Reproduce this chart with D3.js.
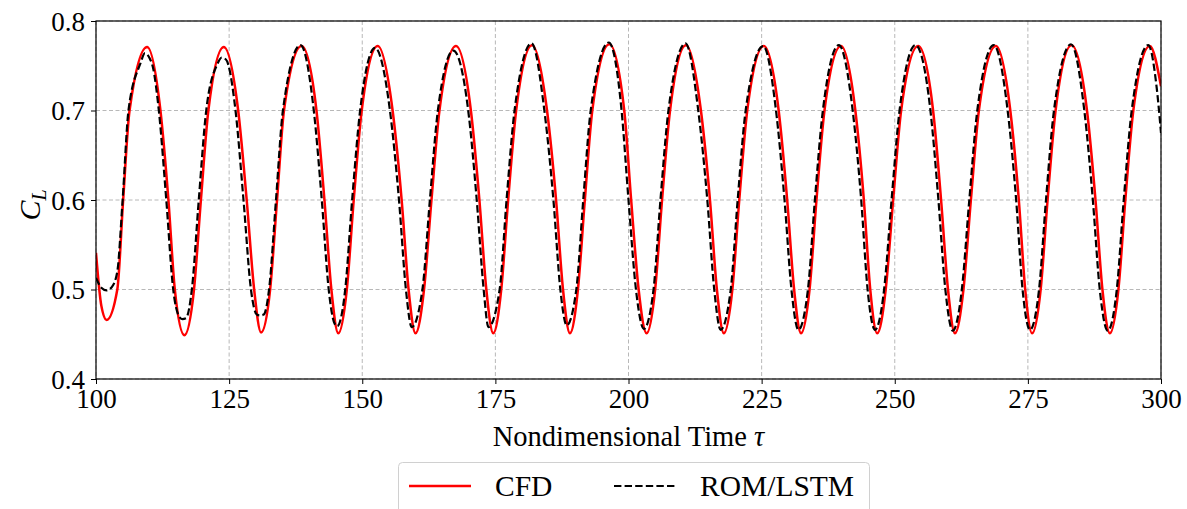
<!DOCTYPE html>
<html><head><meta charset="utf-8">
<script src="https://cdn.jsdelivr.net/npm/d3@7"></script>
<style>body{margin:0;background:#fff}svg{display:block}</style>
</head><body>
<svg id="c" width="1187" height="509"></svg>
<script>
const xTicks = [100,125,150,175,200,225,250,275,300];
const yTicks = [0.4,0.5,0.6,0.7,0.8];
const seriesNames = ["CFD","ROM/LSTM"];
// CFD lift coefficient (tau, C_L)
const cfdTau = [100,101.0,102.0,104.0,105.1,106.3,109.6,
 112.1,113.6,114.8,116.6,118.4,119.7,121.1,124.0,
 126.7,128.3,129.7,131.0,132.7,134.0,135.3,138.6,
 141.4,142.9,144.2,145.5,147.1,148.4,149.9,152.9,
 155.7,157.4,158.7,160.0,161.6,163.0,164.5,167.6,
 170.4,172.0,173.3,174.6,176.1,177.4,178.9,181.9,
 184.7,186.4,187.7,189.0,190.5,191.8,193.2,196.4,
 199.2,200.5,201.9,203.4,205.0,206.3,207.8,210.8,
 213.6,215.3,216.6,217.9,219.5,220.8,222.3,225.4,
 228.2,229.8,231.1,232.4,234.0,235.3,236.8,239.9,
 242.6,244.2,245.4,246.7,248.3,249.7,251.2,254.4,
 257.2,258.7,260.0,261.3,262.9,264.3,265.8,269.0,
 271.7,273.3,274.5,275.8,277.4,278.7,280.2,283.2,
 286.1,287.7,289.0,290.4,292.0,293.3,294.8,297.9,300];
const cfdCL = [0.541,0.482,0.466,0.5,0.6,0.7,0.771,
 0.7,0.6,0.5,0.449,0.5,0.6,0.7,0.771,
 0.7,0.6,0.5,0.452,0.5,0.6,0.7,0.772,
 0.7,0.6,0.5,0.451,0.5,0.6,0.7,0.772,
 0.7,0.6,0.5,0.451,0.5,0.6,0.7,0.772,
 0.7,0.6,0.5,0.451,0.5,0.6,0.7,0.773,
 0.7,0.6,0.5,0.451,0.5,0.6,0.7,0.774,
 0.7,0.6,0.5,0.451,0.5,0.6,0.7,0.773,
 0.7,0.6,0.5,0.451,0.5,0.6,0.7,0.772,
 0.7,0.6,0.5,0.451,0.5,0.6,0.7,0.772,
 0.7,0.6,0.5,0.451,0.5,0.6,0.7,0.772,
 0.7,0.6,0.5,0.451,0.5,0.6,0.7,0.772,
 0.7,0.6,0.5,0.451,0.5,0.6,0.7,0.773,
 0.7,0.6,0.5,0.451,0.5,0.6,0.7,0.772,0.727];
// ROM/LSTM prediction (tau, C_L)
const romTau = [100,101.0,102.0,103.0,104.0,105.0,106.1,108.3,109.2,110.1,110.7,
 111.8,113.2,114.5,115.6,116.2,116.9,118.0,119.3,120.7,122.8,123.6,124.4,
 126.2,127.7,129.1,130.2,130.8,131.5,132.5,133.8,135.1,138.4,
 140.9,142.4,143.7,144.8,145.3,146.8,148.1,149.6,152.4,
 155.2,156.9,158.2,159.3,161.3,162.7,164.2,167.1,
 169.9,171.5,172.8,173.7,175.8,177.1,178.6,181.8,
 184.2,185.9,187.2,188.4,190.2,191.5,192.9,196.3,
 198.7,200.0,201.4,202.9,204.7,206.0,207.5,210.7,
 213.1,214.8,216.1,217.3,219.2,220.5,222.0,225.3,
 227.7,229.3,230.6,231.9,233.7,235.0,236.5,239.5,
 242.1,243.7,244.9,246.3,248.0,249.4,250.9,253.9,
 256.7,258.2,259.5,260.9,262.6,264.0,265.5,268.6,
 271.2,272.8,274.0,275.4,277.1,278.4,279.9,283.1,
 285.6,287.2,288.5,290.0,291.7,293.0,294.5,297.6,299.2,300];
const romCL = [0.513,0.502,0.499,0.503,0.52,0.6,0.7,0.752,0.764,0.758,0.748,
 0.7,0.6,0.5,0.470,0.467,0.468,0.5,0.6,0.7,0.752,0.759,0.757,
 0.7,0.6,0.5,0.472,0.471,0.472,0.5,0.6,0.7,0.773,
 0.7,0.6,0.5,0.462,0.459,0.5,0.6,0.7,0.770,
 0.7,0.6,0.5,0.458,0.5,0.6,0.7,0.767,
 0.7,0.6,0.5,0.458,0.5,0.6,0.7,0.775,
 0.7,0.6,0.5,0.460,0.5,0.6,0.7,0.776,
 0.7,0.6,0.5,0.456,0.5,0.6,0.7,0.775,
 0.7,0.6,0.5,0.455,0.5,0.6,0.7,0.772,
 0.7,0.6,0.5,0.455,0.5,0.6,0.7,0.773,
 0.7,0.6,0.5,0.455,0.5,0.6,0.7,0.773,
 0.7,0.6,0.5,0.454,0.5,0.6,0.7,0.773,
 0.7,0.6,0.5,0.455,0.5,0.6,0.7,0.774,
 0.7,0.6,0.5,0.454,0.5,0.6,0.7,0.773,0.725,0.675];

const svg = d3.select("#c");
const font = "'Liberation Serif', 'DejaVu Serif', serif";
const L = 96, R = 1161, T = 21, B = 379;
const x = d3.scaleLinear().domain([100,300]).range([L,R]);
const y = d3.scaleLinear().domain([0.4,0.8]).range([B,T]);

// grid
const g = svg.append("g");
g.selectAll(".gx").data(xTicks).join("line")
  .attr("x1",d=>x(d)).attr("x2",d=>x(d)).attr("y1",T).attr("y2",B)
  .attr("stroke","#b0b0b0").attr("stroke-width",0.9).attr("stroke-dasharray","4,2.5");
g.selectAll(".gy").data(yTicks).join("line")
  .attr("y1",d=>y(d)).attr("y2",d=>y(d)).attr("x1",L).attr("x2",R)
  .attr("stroke","#b0b0b0").attr("stroke-width",0.9).attr("stroke-dasharray","4,2.5");

svg.append("clipPath").attr("id","pc").append("rect")
  .attr("x",L).attr("y",T).attr("width",R-L).attr("height",B-T);

const line = d3.line().x(d=>x(d[0])).y(d=>y(d[1])).curve(d3.curveMonotoneX);
const cfd = cfdTau.map((t,i)=>[t,cfdCL[i]]);
const rom = romTau.map((t,i)=>[t,romCL[i]]);
const pl = svg.append("g").attr("clip-path","url(#pc)");
pl.append("path").attr("d",line(cfd)).attr("fill","none").attr("stroke","#ff0000").attr("stroke-width",2.5);
pl.append("path").attr("d",line(rom)).attr("fill","none").attr("stroke","#000").attr("stroke-width",2.2)
  .attr("stroke-dasharray","7.4,3.2");

// axes
const xa = svg.append("g").attr("transform",`translate(0,${B})`)
  .call(d3.axisBottom(x).tickValues(xTicks).tickFormat(d3.format("d")).tickSizeOuter(0).tickSize(5).tickPadding(5));
const ya = svg.append("g").attr("transform",`translate(${L},0)`)
  .call(d3.axisLeft(y).tickValues(yTicks).tickFormat(d3.format(".1f")).tickSizeOuter(0).tickSize(5).tickPadding(6));
[xa,ya].forEach(a=>{
  a.select(".domain").remove();
  a.selectAll("text").attr("font-family",font).attr("font-size",27).attr("fill","#000");
  a.selectAll("line").attr("stroke","#000").attr("stroke-width",1);
});
ya.selectAll("text").attr("dy","0.34em");
svg.append("rect").attr("x",L).attr("y",T).attr("width",R-L).attr("height",B-T)
  .attr("fill","none").attr("stroke","#000").attr("stroke-width",1.2);

// labels
const xl = svg.append("text").attr("x",(L+R)/2).attr("y",446).attr("text-anchor","middle")
  .attr("font-family",font).attr("font-size",28.5);
xl.append("tspan").text("Nondimensional Time ");
xl.append("tspan").attr("font-style","italic").text("τ");
const yl = svg.append("text").attr("transform","translate(40,205) rotate(-90)").attr("text-anchor","middle")
  .attr("font-family",font).attr("font-size",30).attr("font-style","italic");
yl.append("tspan").text("C");
yl.append("tspan").attr("font-size",20).attr("dy",6).text("L");

// legend
const lg = svg.append("g");
lg.append("rect").attr("x",398.5).attr("y",462.5).attr("width",471).attr("height",60).attr("rx",4)
  .attr("fill","#fff").attr("stroke","#d0d0d0").attr("stroke-width",1);
const items = [{x0:409,tx:495,color:"#ff0000",dash:null,w:2.5},{x0:614,tx:700,color:"#000",dash:"7.4,3.2",w:2.2}];
items.forEach((it,i)=>{
  lg.append("line").attr("x1",it.x0).attr("x2",it.x0+62).attr("y1",486).attr("y2",486)
    .attr("stroke",it.color).attr("stroke-width",it.w).attr("stroke-dasharray",it.dash);
  lg.append("text").attr("x",it.tx).attr("y",496).attr("font-family",font).attr("font-size",29.5).text(seriesNames[i]);
});
</script>
</body></html>
